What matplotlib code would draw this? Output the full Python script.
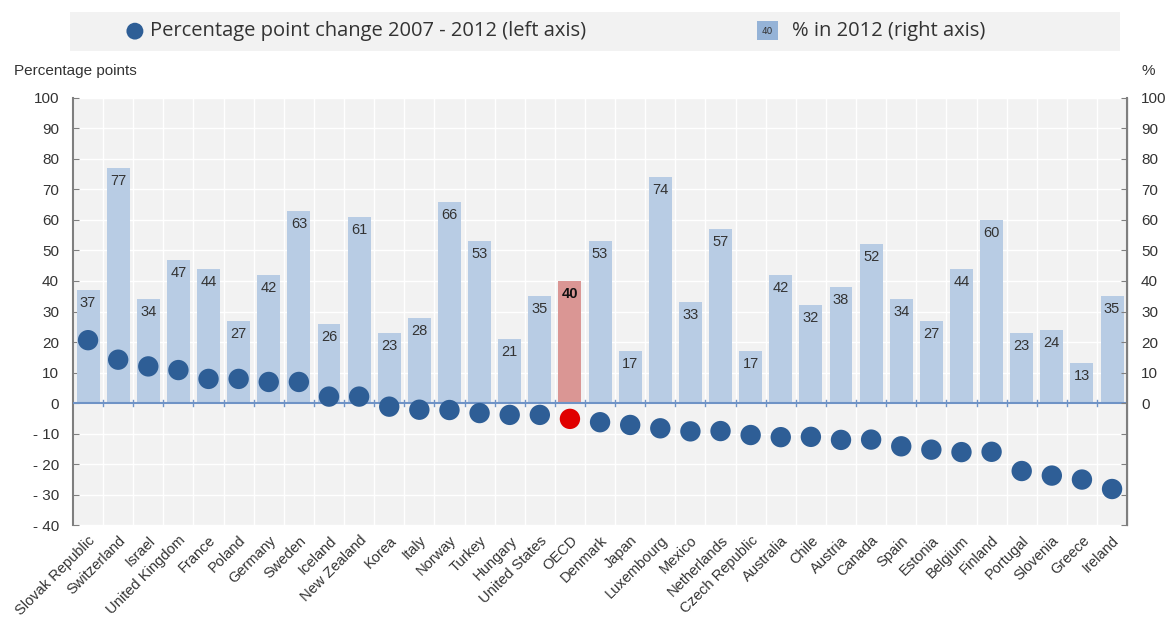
import matplotlib.pyplot as plt
import matplotlib.patches as mpatches
import numpy as np

countries = ["Slovak Republic", "Switzerland", "Israel", "United Kingdom", "France", "Poland",
             "Germany", "Sweden", "Iceland", "New Zealand", "Korea", "Italy", "Norway", "Turkey",
             "Hungary", "United States", "OECD", "Denmark", "Japan", "Luxembourg", "Mexico",
             "Netherlands", "Czech Republic", "Australia", "Chile", "Austria", "Canada", "Spain",
             "Estonia", "Belgium", "Finland", "Portugal", "Slovenia", "Greece", "Ireland"]
share_2012 = [37, 77, 34, 47, 44, 27, 42, 63, 26, 61, 23, 28, 66, 53, 21, 35, 40, 53, 17, 74,
              33, 57, 17, 42, 32, 38, 52, 34, 27, 44, 60, 23, 24, 13, 35]
change_0712 = [20.6, 14.2, 12.0, 10.8, 7.9, 7.9, 6.9, 6.9, 2.1, 2.1, -1.2, -2.2, -2.3, -3.3,
               -3.9, -3.9, -5.2, -6.3, -7.2, -8.3, -9.3, -9.2, -10.5, -11.2, -11.1, -12.1,
               -12.0, -14.2, -15.3, -16.1, -16.0, -22.3, -23.8, -25.1, -28.2]

bar_blue = "#b8cce4"
bar_red = "#da9694"
dot_blue = "#2e5e96"
dot_red = "#e00000"
txt = "#333333"
ax_font = "Liberation Sans"

fig = plt.figure(figsize=(11.68, 6.23), dpi=100)
ax = fig.add_axes([0.0625, 0.1573, 0.9025, 0.6854])
ax.set_facecolor("#f2f2f2")

x = np.arange(len(countries))
is_oecd = np.array([c == "OECD" for c in countries])

# grid
for b in np.arange(-0.5, len(countries), 1):
    ax.axvline(b, color="white", lw=1, zorder=0)
for yv in range(-40, 101, 10):
    ax.axhline(yv, color="white", lw=1, zorder=0)

bar_colors = [bar_red if o else bar_blue for o in is_oecd]
ax.bar(x, share_2012, width=0.76, color=bar_colors, zorder=2)
for xi, v, o in zip(x, share_2012, is_oecd):
    ax.text(xi, v - 2, str(v), ha="center", va="top", fontsize=10.5, color="#111111" if o else txt,
            fontweight="bold" if o else "normal", family=ax_font, zorder=3)

# zero line with boundary ticks
ax.axhline(0, color="#6f93c6", lw=1.5, zorder=3)
for b in np.arange(0.5, len(countries) - 1, 1):
    ax.plot([b, b], [-1, 1], color="#6f93c6", lw=1, zorder=3)

dot_colors = [dot_red if o else dot_blue for o in is_oecd]
ax.scatter(x, change_0712, s=215, c=dot_colors, zorder=4, edgecolors="none")

ax.set_xlim(-0.5, len(countries) - 0.5)
ax.set_ylim(-40, 100)
yt = list(range(-40, 101, 10))
ax.set_yticks(yt)
ax.set_yticklabels([("- %d" % -v) if v < 0 else str(v) for v in yt], fontsize=11, color=txt,
                   family=ax_font)
ax.tick_params(axis="y", direction="in", length=4, color="#7f7f7f", pad=10)
ax.set_xticks(x)
ax.set_xticklabels(countries, rotation=45, ha="right", rotation_mode="anchor", fontsize=10.5,
                   color=txt, family=ax_font)
ax.tick_params(axis="x", length=0, pad=6)
for s in ["top", "bottom"]:
    ax.spines[s].set_visible(False)
ax.spines["left"].set_color("#7f7f7f")
ax.spines["left"].set_linewidth(1.5)

ax2 = ax.twinx()
ax2.set_ylim(-40, 100)
ax2.set_yticks(yt)
ax2.set_yticklabels([str(v) if v >= 0 else "" for v in yt], fontsize=11, color=txt, family=ax_font)
ax2.tick_params(axis="y", direction="in", length=4, color="#7f7f7f", pad=10)
for s in ["top", "bottom", "left"]:
    ax2.spines[s].set_visible(False)
ax2.spines["right"].set_color("#7f7f7f")
ax2.spines["right"].set_linewidth(1.5)

fig.text(0.012, 0.875, "Percentage points", fontsize=11, color=txt, va="bottom", family=ax_font)
fig.text(0.983, 0.875, "%", fontsize=11, color=txt, va="bottom", ha="center", family=ax_font)

# legend bar
fig.patches.append(mpatches.Rectangle((0.060, 0.918), 0.899, 0.062, transform=fig.transFigure,
                                      facecolor="#f2f2f2", edgecolor="none"))
fig.patches.append(mpatches.Ellipse((0.1155, 0.950), 0.0145, 0.027, transform=fig.transFigure,
                                    facecolor=dot_blue, edgecolor="none"))
fig.text(0.128, 0.950, "Percentage point change 2007 - 2012 (left axis)", fontsize=14.5,
         color=txt, va="center", family="Open Sans")
fig.patches.append(mpatches.Rectangle((0.648, 0.935), 0.018, 0.031, transform=fig.transFigure,
                                      facecolor="#95b3d7", edgecolor="none"))
fig.text(0.657, 0.950, "40", fontsize=6.5, color=txt, va="center", ha="center")
fig.text(0.678, 0.950, "% in 2012 (right axis)", fontsize=14.5, color=txt, va="center",
         family="Open Sans")

fig.savefig("out.png", dpi=100)
